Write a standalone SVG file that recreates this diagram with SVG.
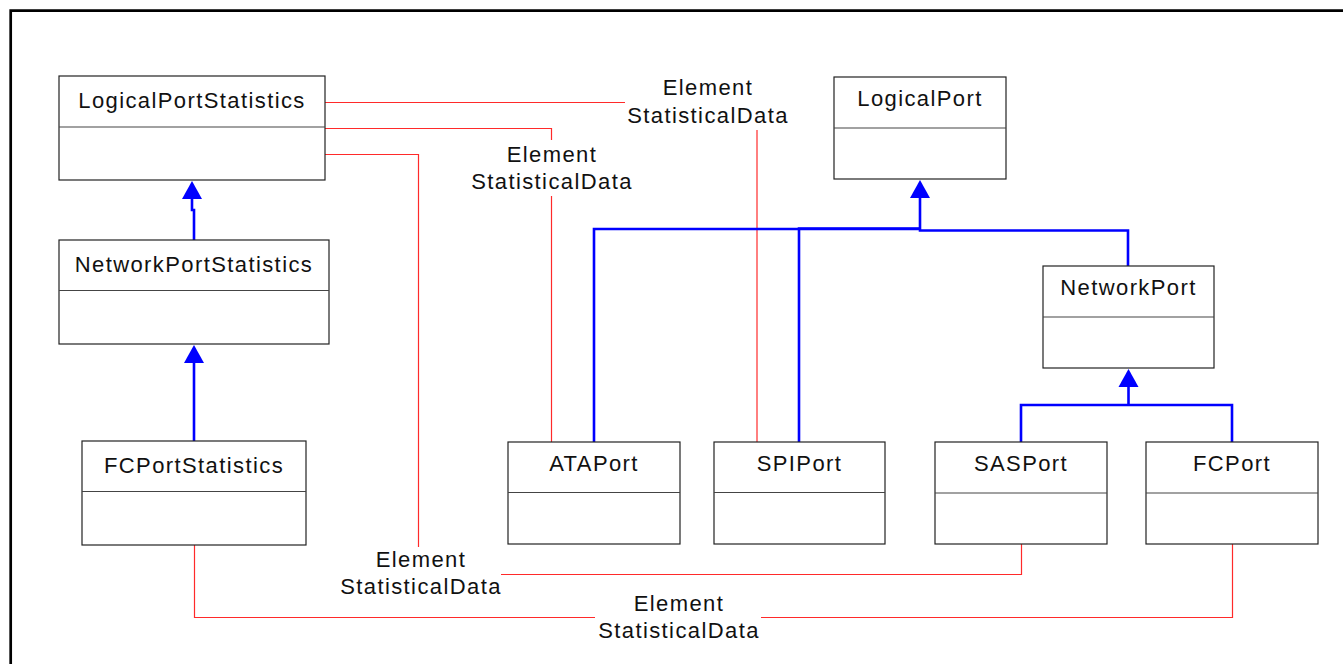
<svg xmlns="http://www.w3.org/2000/svg" width="1343" height="664" viewBox="0 0 1343 664">
<style>
.box{fill:#fff;stroke:#222;stroke-width:1.2}
.div{stroke:#444;stroke-width:1.2}
.t{font-family:"Liberation Sans",Arial,sans-serif;font-size:22px;letter-spacing:1.4px;fill:#111;text-anchor:middle}
.red{fill:none;stroke:#ff2a2a;stroke-width:1.2}
.blue{fill:none;stroke:#0000ff;stroke-width:2.6}
.head{fill:#0000ff;stroke:none}
</style>
<rect x="0" y="0" width="1343" height="664" fill="#fff"/>
<path d="M10.7,664 V10.7 H1343" fill="none" stroke="#000" stroke-width="2.7"/>

<g id="connectors">
  <!-- association lines -->
  <path class="red" d="M325,102.5 H625"/>
  <path class="red" d="M757,130 V442"/>
  <path class="red" d="M325,128.5 H551.5 V140"/>
  <path class="red" d="M551.5,196 V442"/>
  <path class="red" d="M325,154.5 H418.5 V547"/>
  <path class="red" d="M501,574.5 H1021.5 V544"/>
  <path class="red" d="M194.5,545 V617.5 H595"/>
  <path class="red" d="M761,617.5 H1232.5 V544"/>
  <!-- generalization lines -->
  <path class="blue" d="M194,240 V210 H192 V198"/>
  <polygon class="head" points="192,181 182,199 202,199"/>
  <path class="blue" d="M194,441 V362"/>
  <polygon class="head" points="194,345 184,363 204,363"/>
  <path class="blue" d="M594,442 V229 H920"/>
  <path class="blue" d="M799,442 V228.5 H920"/>
  <path class="blue" d="M1128,266 V230.5 H920 V197"/>
  <polygon class="head" points="920,180 910,198 930,198"/>
  <path class="blue" d="M1021,442 V405 H1232 V442"/>
  <path class="blue" d="M1128.5,405 V386"/>
  <polygon class="head" points="1128.5,369 1118.5,387 1138.5,387"/>
  <!-- labels -->
  <text class="t" x="708" y="95">Element</text>
  <text class="t" x="708" y="122.5">StatisticalData</text>
  <text class="t" x="552" y="162">Element</text>
  <text class="t" x="552" y="188.5">StatisticalData</text>
  <text class="t" x="421" y="567">Element</text>
  <text class="t" x="421" y="594">StatisticalData</text>
  <text class="t" x="679" y="611">Element</text>
  <text class="t" x="679" y="638">StatisticalData</text>
</g>

<g id="LogicalPortStatistics">
  <rect class="box" x="59" y="76" width="266" height="104"/>
  <line class="div" x1="59" y1="127" x2="325" y2="127"/>
  <text class="t" x="192" y="108">LogicalPortStatistics</text>
</g>
<g id="NetworkPortStatistics">
  <rect class="box" x="59" y="240" width="270" height="104"/>
  <line class="div" x1="59" y1="290.5" x2="329" y2="290.5"/>
  <text class="t" x="194" y="272">NetworkPortStatistics</text>
</g>
<g id="FCPortStatistics">
  <rect class="box" x="82" y="441" width="224" height="104"/>
  <line class="div" x1="82" y1="491.5" x2="306" y2="491.5"/>
  <text class="t" x="194" y="473">FCPortStatistics</text>
</g>
<g id="LogicalPort">
  <rect class="box" x="834" y="77" width="172" height="102"/>
  <line class="div" x1="834" y1="128" x2="1006" y2="128"/>
  <text class="t" x="920" y="106">LogicalPort</text>
</g>
<g id="NetworkPort">
  <rect class="box" x="1043" y="266" width="171" height="102"/>
  <line class="div" x1="1043" y1="317" x2="1214" y2="317"/>
  <text class="t" x="1128.5" y="295">NetworkPort</text>
</g>
<g id="ATAPort">
  <rect class="box" x="508" y="442" width="172" height="102"/>
  <line class="div" x1="508" y1="492.5" x2="680" y2="492.5"/>
  <text class="t" x="594" y="471">ATAPort</text>
</g>
<g id="SPIPort">
  <rect class="box" x="714" y="442" width="171" height="102"/>
  <line class="div" x1="714" y1="492.5" x2="885" y2="492.5"/>
  <text class="t" x="799.5" y="471">SPIPort</text>
</g>
<g id="SASPort">
  <rect class="box" x="935" y="442" width="172" height="102"/>
  <line class="div" x1="935" y1="493" x2="1107" y2="493"/>
  <text class="t" x="1021" y="471">SASPort</text>
</g>
<g id="FCPort">
  <rect class="box" x="1146" y="442" width="172" height="102"/>
  <line class="div" x1="1146" y1="493" x2="1318" y2="493"/>
  <text class="t" x="1232" y="471">FCPort</text>
</g>
</svg>
